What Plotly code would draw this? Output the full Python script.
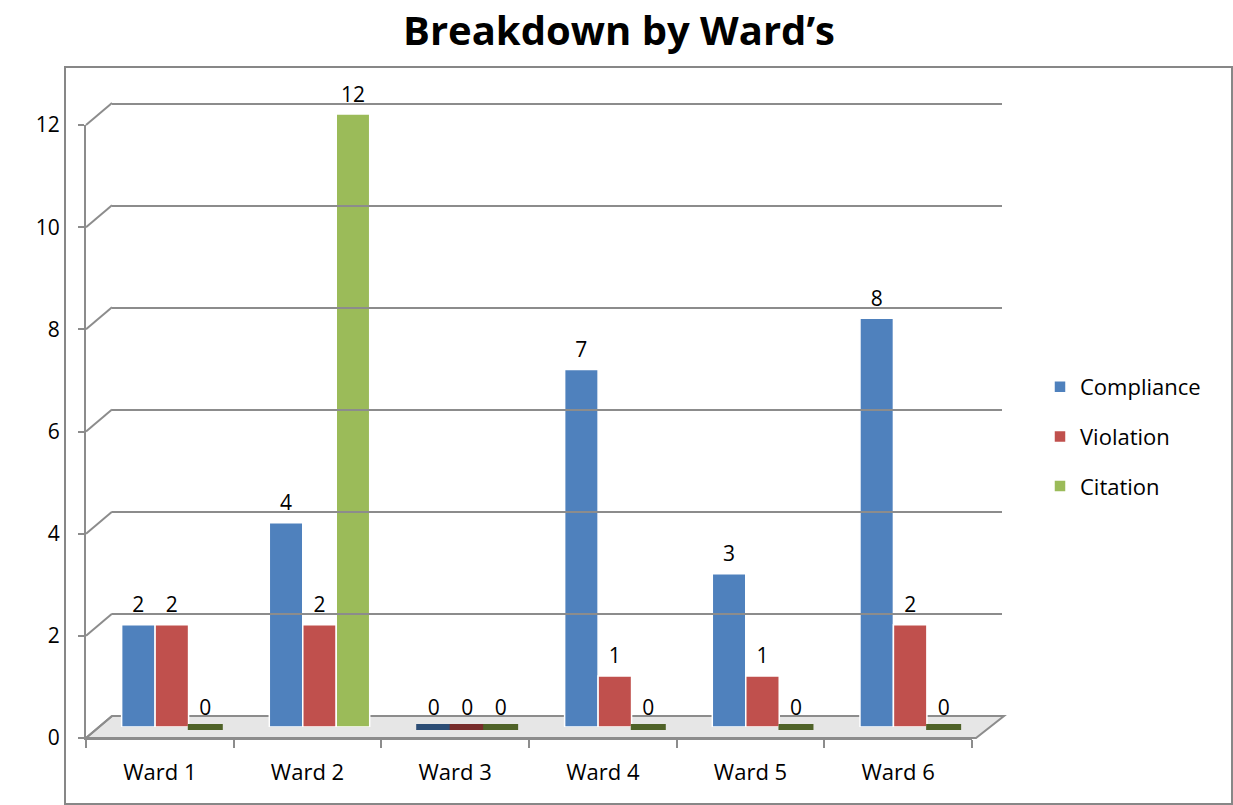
import plotly.graph_objects as go

wards = ["Ward 1", "Ward 2", "Ward 3", "Ward 4", "Ward 5", "Ward 6"]
compliance = [2, 4, 0, 7, 3, 8]
violation = [2, 2, 0, 1, 1, 2]
citation = [0, 12, 0, 0, 0, 0]
series_names = ["Compliance", "Violation", "Citation"]
y_ticks = [0, 2, 4, 6, 8, 10, 12]

colors = ["#4F81BD", "#C0504D", "#9BBB59"]
dark = ["#2C4D75", "#772C2A", "#4F6228"]

W, H = 1233, 805
def fx(p):
    return p / W
def fy(p):
    return 1 - p / H

FONT = "Open Sans"
fig = go.Figure()

all_vals = [compliance, violation, citation]

for name, vals, c in zip(series_names, all_vals, colors):
    fig.add_trace(go.Bar(
        x=wards, y=vals, name=name, xaxis="x2", yaxis="y2",
        offsetgroup=name, legendgroup=name,
        marker=dict(color=c, line=dict(color="white", width=1.5)),
        cliponaxis=False,
    ))

# flat discs for zero-valued bars
for name, vals, d in zip(series_names, all_vals, dark):
    fig.add_trace(go.Scatter(
        x=wards, y=[0 if v == 0 else None for v in vals], xaxis="x2", yaxis="y2",
        mode="markers", offsetgroup=name, showlegend=False, hoverinfo="skip",
        marker=dict(symbol="line-ew", size=25, line=dict(color=d, width=6)),
        cliponaxis=False,
    ))

# value labels above each bar
for name, vals in zip(series_names, all_vals):
    fig.add_trace(go.Scatter(
        x=wards, y=vals, xaxis="x2", yaxis="y2",
        mode="markers+text", offsetgroup=name, showlegend=False, hoverinfo="skip",
        text=[str(v) for v in vals], textposition="top center",
        textfont=dict(family=FONT, size=21, color="black"),
        marker=dict(size=10, color="rgba(0,0,0,0)"),
        cliponaxis=False,
    ))

# invisible traces to create the main and grid subplots
fig.add_trace(go.Scatter(x=wards, y=[None] * 6, xaxis="x", yaxis="y", showlegend=False, hoverinfo="skip"))
fig.add_trace(go.Scatter(x=wards, y=[None] * 6, xaxis="x3", yaxis="y3", showlegend=False, hoverinfo="skip"))

grey = "#8C8C8C"
def front_py(v):
    return 738 - (738 - 125) * v / 12
def back_py(v):
    return 716 - (716 - 103) * v / 12

shapes = []
shapes.append(dict(type="path", xref="paper", yref="paper",
                   path=f"M {fx(86)},{fy(738)} L {fx(976)},{fy(738)} L {fx(1004)},{fy(716)} L {fx(112)},{fy(716)} Z",
                   fillcolor="#E6E6E6", line=dict(color=grey, width=2), layer="below"))
for v in y_ticks:
    shapes.append(dict(type="line", xref="paper", yref="paper",
                       x0=fx(86), y0=fy(front_py(v)), x1=fx(112), y1=fy(back_py(v)),
                       line=dict(color=grey, width=2), layer="below"))
shapes.append(dict(type="rect", xref="paper", yref="paper",
                   x0=fx(65), y0=fy(804), x1=fx(1232), y1=fy(67),
                   line=dict(color="#878787", width=2), fillcolor="rgba(0,0,0,0)"))

fig.update_layout(
    width=W, height=H,
    margin=dict(l=0, r=0, t=0, b=0, pad=0, autoexpand=False),
    paper_bgcolor="white", plot_bgcolor="rgba(0,0,0,0)",
    font=dict(family=FONT, color="black"),
    title=dict(text="<b>Breakdown by Ward’s</b>", x=fx(619), xanchor="center",
               y=fy(31), yanchor="middle", font=dict(family=FONT, size=40, color="black")),
    barmode="group", bargap=0.32, bargroupgap=0,
    scattermode="group", scattergap=0.32,
    showlegend=True,
    legend=dict(x=fx(1040), y=fy(366), xanchor="left", yanchor="top",
                font=dict(family=FONT, size=22, color="black"),
                tracegroupgap=18, bgcolor="rgba(0,0,0,0)", itemwidth=30),
    xaxis=dict(domain=[fx(86), fx(972)], type="category", range=[-0.5, 5.5],
               showline=True, linecolor=grey, linewidth=2,
               ticks="outside", tickson="boundaries", ticklen=8, tickcolor=grey, tickwidth=2,
               tickfont=dict(family=FONT, size=22), ticklabelstandoff=14,
               showgrid=False, zeroline=False, anchor="y", fixedrange=True, automargin=False),
    yaxis=dict(domain=[fy(738), fy(125)], range=[0, 12], tickvals=y_ticks,
               showline=True, linecolor=grey, linewidth=2,
               ticks="outside", ticklen=6, tickcolor=grey, tickwidth=2,
               tickfont=dict(family=FONT, size=21), ticklabelstandoff=14,
               showgrid=False, zeroline=False, anchor="x", fixedrange=True, automargin=False),
    xaxis2=dict(domain=[fx(98), fx(984)], type="category", range=[-0.5, 5.5],
                visible=False, anchor="y2", fixedrange=True),
    yaxis2=dict(domain=[fy(727), fy(114)], range=[0, 12],
                visible=False, anchor="x2", fixedrange=True),
    xaxis3=dict(domain=[fx(112), fx(1002)], type="category", range=[-0.5, 5.5],
                showticklabels=False, showgrid=False, showline=False, zeroline=False,
                anchor="y3", fixedrange=True),
    yaxis3=dict(domain=[fy(716), fy(102)], range=[0, 12.03], tickvals=y_ticks,
                showticklabels=False, showgrid=True, gridcolor=grey, gridwidth=2,
                showline=False, zeroline=False, anchor="x3", fixedrange=True),
    shapes=shapes,
)

fig.write_html("out.html")
